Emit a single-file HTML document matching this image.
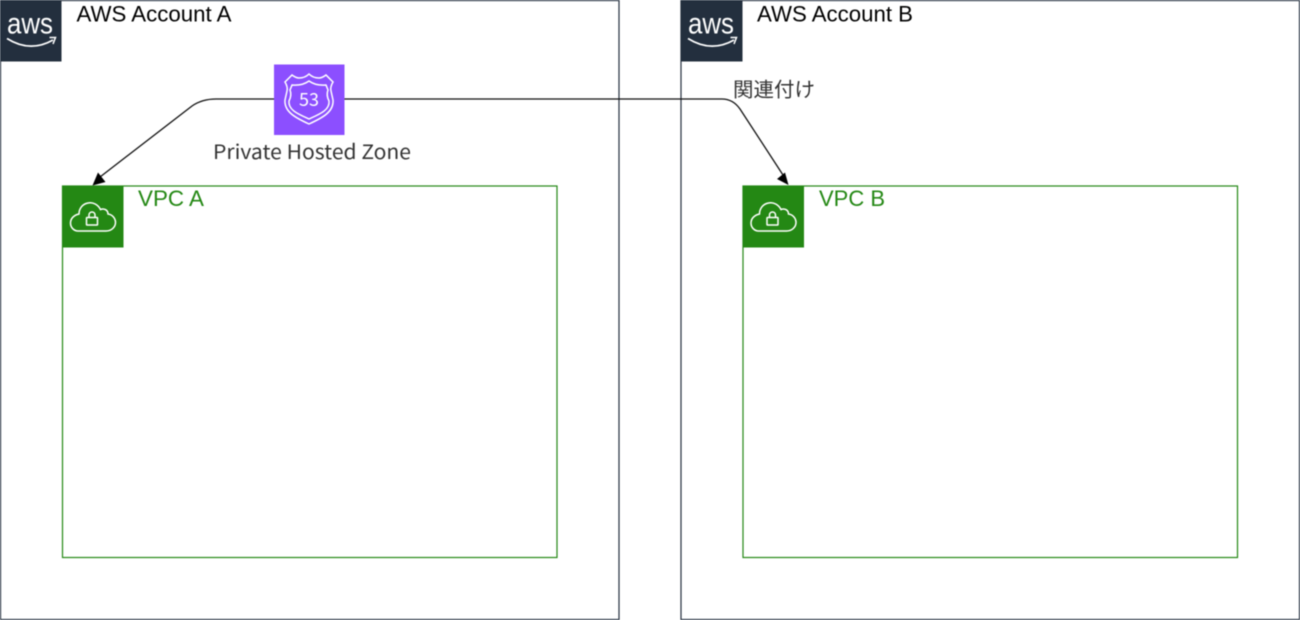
<!DOCTYPE html>
<html>
<head>
<meta charset="utf-8">
<style>
html,body{margin:0;padding:0;background:#fff;width:1300px;height:620px;overflow:hidden}
svg{display:block;filter:blur(0.5px)}
text{font-family:"Liberation Sans","Noto Sans CJK JP",sans-serif}
</style>
</head>
<body>
<svg width="1300" height="620" viewBox="0 0 1300 620" xmlns="http://www.w3.org/2000/svg">
<rect width="1300" height="620" fill="#fff"/>
<!-- Account boxes -->
<rect x="0.5" y="0.5" width="618.5" height="619" fill="#fff" stroke="#232f3e" stroke-width="1.2"/>
<rect x="681" y="0.5" width="618.5" height="619" fill="#fff" stroke="#232f3e" stroke-width="1.2"/>
<!-- AWS logo A -->
<g>
<rect x="0" y="0" width="61.5" height="61.5" fill="#232f3e"/>
<text x="7" y="33.500" font-size="30" fill="#fff" textLength="46" lengthAdjust="spacingAndGlyphs">aws</text>
<path d="M7 38.500 Q30 53 53 40" fill="none" stroke="#fff" stroke-width="1.700"/>
<path d="M49.500 37.500 L55.500 37.500 L53 44" fill="none" stroke="#fff" stroke-width="1.500"/>
</g>
<!-- AWS logo B -->
<g transform="translate(681 0)">
<rect x="0" y="0" width="61.5" height="61.5" fill="#232f3e"/>
<text x="7" y="33.500" font-size="30" fill="#fff" textLength="46" lengthAdjust="spacingAndGlyphs">aws</text>
<path d="M7 38.500 Q30 53 53 40" fill="none" stroke="#fff" stroke-width="1.700"/>
<path d="M49.500 37.500 L55.500 37.500 L53 44" fill="none" stroke="#fff" stroke-width="1.500"/>
</g>
<text x="76.500" y="21.500" font-size="21.800" fill="#000" textLength="155" lengthAdjust="spacingAndGlyphs">AWS Account A</text>
<text x="757" y="21.500" font-size="21.800" fill="#000" textLength="156" lengthAdjust="spacingAndGlyphs">AWS Account B</text>

<!-- VPC boxes -->
<rect x="62.500" y="186" width="494.500" height="371.500" fill="#fff" stroke="#248814" stroke-width="1.200"/>
<rect x="743" y="186" width="494.500" height="371.500" fill="#fff" stroke="#248814" stroke-width="1.200"/>
<rect x="62" y="186" width="61.500" height="61.500" fill="#248814"/>
<rect x="742.500" y="186" width="61.500" height="61.500" fill="#248814"/>
<!-- Cloud lock icons -->
<g fill="none" stroke="#fff" stroke-width="1.500">
<path d="M78 231 H106 C112 231 115.500 226.500 115.500 222.500 C115.500 218 112 214.500 108 214 C108 210 104 208 100.500 209.500 C98 204.500 93 202 88 203 C82.500 204 79 208.500 79 214 C74 215 70.500 218.500 70.500 223 C70.500 227.500 74 231 78 231 Z"/>
<rect x="86.500" y="217.500" width="11" height="7.500" rx="0.500"/>
<path d="M89 217.500 V215 C89 211 95 211 95 215 V217.500"/>
</g>
<g fill="none" stroke="#fff" stroke-width="1.500" transform="translate(680.500 0)">
<path d="M78 231 H106 C112 231 115.500 226.500 115.500 222.500 C115.500 218 112 214.500 108 214 C108 210 104 208 100.500 209.500 C98 204.500 93 202 88 203 C82.500 204 79 208.500 79 214 C74 215 70.500 218.500 70.500 223 C70.500 227.500 74 231 78 231 Z"/>
<rect x="86.500" y="217.500" width="11" height="7.500" rx="0.500"/>
<path d="M89 217.500 V215 C89 211 95 211 95 215 V217.500"/>
</g>
<text x="138" y="206" font-size="22" fill="#248814" textLength="66" lengthAdjust="spacingAndGlyphs">VPC A</text>
<text x="819" y="206" font-size="22" fill="#248814" textLength="66" lengthAdjust="spacingAndGlyphs">VPC B</text>

<!-- Connectors -->
<path d="M274 99 H216 Q202 99 192 106 L100 177" fill="none" stroke="#111" stroke-width="1.300"/>
<path d="M92.500 185.500 L98 172.500 L105.500 182 Z" fill="#000"/>
<path d="M344 99 H722 Q733 99 740 109 L783 175" fill="none" stroke="#111" stroke-width="1.300"/>
<path d="M788.500 185 L777 179 L785 172.500 Z" fill="#000"/>

<!-- Route 53 -->
<rect x="274" y="64.500" width="70.500" height="70.500" fill="#8c4fff"/>
<g fill="none" stroke="#fff" stroke-width="1.500">
<path d="M292 75 Q296 78 299 78 Q305 78 309 74 Q313 78 319 78 Q322 78 326 75 L333 82 Q330 87 331 91 L333 100 C334 112 322 118 309 124 C296 118 284 112 285 100 L287 91 Q288 87 285 82 Z"/>
<path d="M292 85 Q302 86 309 81 Q316 86 326 85 L328 90 Q326 95 329 101 C330 110 320 114 309 119 C298 114 288 110 289 101 Q292 95 290 90 Z"/>
</g>
<text x="309" y="106" text-anchor="middle" font-size="18" fill="#fff" style='font-family:"Noto Sans CJK JP",sans-serif'>53</text>

<!-- Labels -->
<text x="213" y="159" font-size="20" fill="#333" textLength="198" lengthAdjust="spacingAndGlyphs" style='font-family:"Noto Sans CJK JP",sans-serif'>Private Hosted Zone</text>
<text x="733" y="96.500" font-size="20" fill="#333" textLength="82" lengthAdjust="spacingAndGlyphs" style='font-family:"Noto Sans CJK JP",sans-serif'>関連付け</text>
</svg>
</body>
</html>
